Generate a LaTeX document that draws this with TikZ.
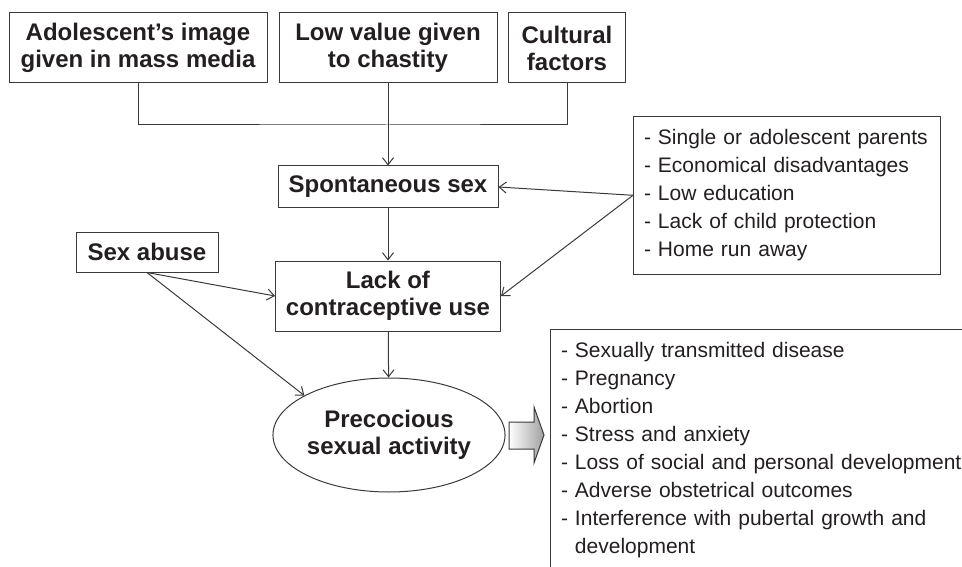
\documentclass[tikz,border=0pt]{standalone}
\usepackage{fontspec}
\setmainfont{Liberation Sans}
\usepackage{tikz}
\usetikzlibrary{shapes.geometric,arrows.meta}
\definecolor{linegray}{HTML}{3A3A3A}
\definecolor{textblack}{HTML}{231F20}

\begin{document}
\begin{tikzpicture}[x=1pt,y=-1pt,line width=1pt,color=linegray,text=textblack]
\tikzset{main box/.style=
	{draw,inner sep=0pt,align=center,font=\fontsize{24}{27}\selectfont\bfseries},
	list box/.style=
	{draw,anchor=north west,inner xsep=10.5pt,inner ysep=13pt,align=left,
	font=\fontsize{21}{28}\selectfont},
	arr/.style={-{Straight Barb[length=7pt,width=11pt]}}}
\useasboundingbox (0,0) rectangle (962,567);
\clip (0,0) rectangle (962,567);
\node[main box,minimum width=258,minimum height=70] (adol) at (138,48) {Adolescent's image\\given in mass media};
\node[main box,minimum width=218,minimum height=70] (lowval) at (388,48) {Low value given\\to chastity};
\node[main box,minimum width=117,minimum height=70] (cult) at (567,48) {Cultural\\factors};
\node[main box,minimum width=220,minimum height=42] (spont) at (388,187) {Spontaneous sex};
\node[main box,minimum width=142,minimum height=40] (abuse) at (147,252) {Sex abuse};
\node[main box,minimum width=225,minimum height=70] (lack) at (388,296) {Lack of\\contraceptive use};
\node[main box,ellipse,minimum width=226,minimum height=114] (precoc) at (389,435) {Precocious\\sexual activity};
\node[list box,text width=286pt,minimum height=156] (risk) at (633,116)
	{- Single or adolescent parents\\- Economical disadvantages\\- Low education\\- Lack of child protection\\- Home run away};
\node[list box,text width=420pt] (conseq) at (550,329)
	{- Sexually transmitted disease\\- Pregnancy\\- Abortion\\- Stress and anxiety\\- Loss of social and personal development\\- Adverse obstetrical outcomes\\- Interference with pubertal growth and\\\phantom{- }development};
\coordinate (join) at (388,125);
\draw (adol.south) |- (join) -| (cult.south);
\draw[arr] (lowval) -- (spont);
\draw[arr] (spont) -- (lack);
\draw[arr] (lack) -- (precoc);
\draw[arr] (abuse.south) -- (lack.west);
\draw[arr] (abuse.south) -- (precoc.155);
\draw[arr] (risk.west) -- (spont.east);
\draw[arr] (risk.west) -- (lack.east);
\draw[left color=white,right color=gray!75] (509,422) -- (534,422) -- (534,407) -- (544,435)
	-- (534,463) -- (534,449) -- (509,449) -- cycle;
\end{tikzpicture}
\end{document}
